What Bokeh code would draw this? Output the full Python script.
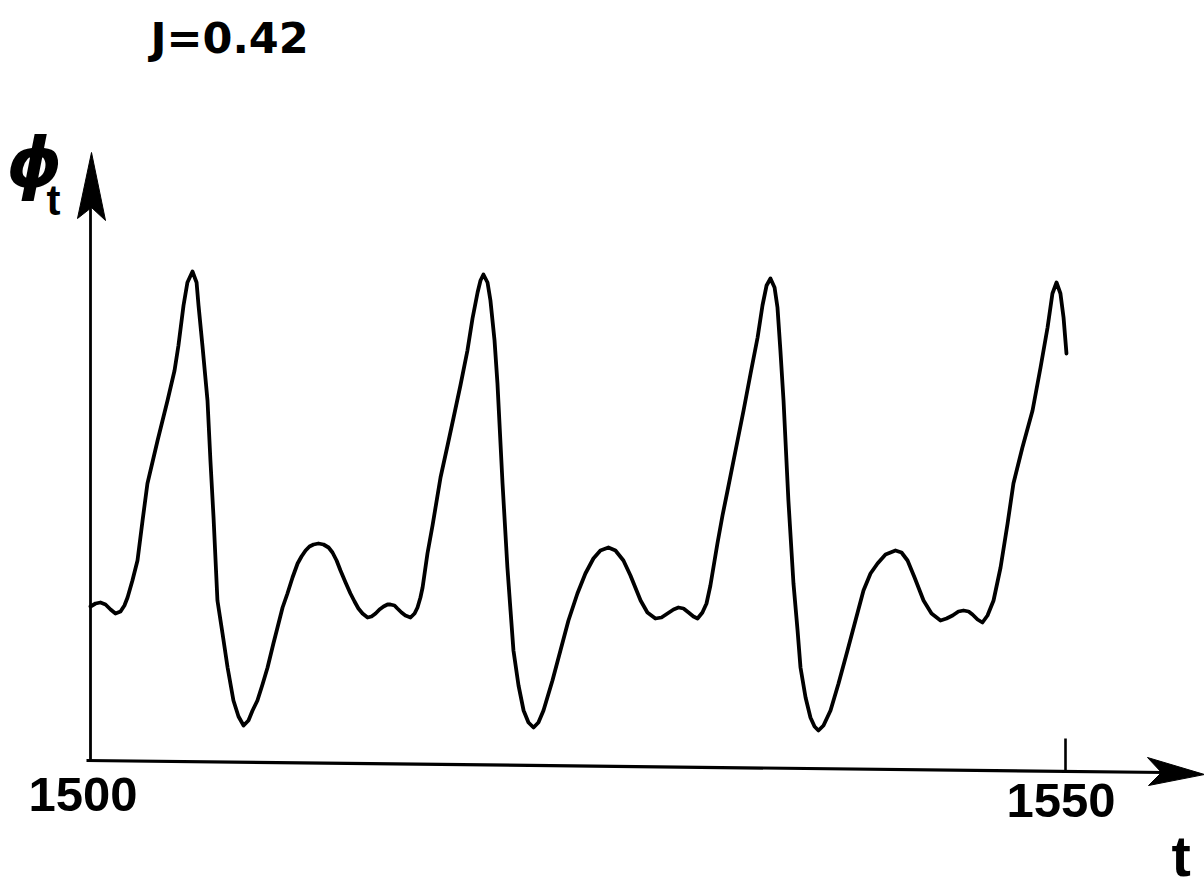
from bokeh.plotting import figure
from bokeh.models import Range1d, Label
from bokeh.embed import file_html
from bokeh.resources import INLINE

# ---------------- data ----------------
t = [1500.00, 1500.26, 1500.51, 1500.77, 1501.03, 1501.28, 1501.54, 1501.74, 1501.90, 1502.15,
     1502.41, 1502.67, 1502.92, 1503.44, 1503.95, 1504.31, 1504.51, 1504.77, 1504.97, 1505.23,
     1505.44, 1505.54, 1505.74, 1506.00, 1506.15, 1506.31, 1506.51, 1506.77, 1507.03, 1507.33,
     1507.59, 1507.85, 1508.10, 1508.31, 1508.56, 1508.82, 1509.08, 1509.38, 1509.59, 1509.85,
     1510.10, 1510.36, 1510.62, 1510.82, 1511.03, 1511.23, 1511.44, 1511.69, 1511.95, 1512.21,
     1512.41, 1512.62, 1512.82, 1513.08, 1513.33, 1513.54, 1513.74, 1513.95, 1514.21, 1514.41,
     1514.62, 1514.82, 1515.03, 1515.23, 1515.38, 1515.59, 1515.74, 1515.95, 1516.15, 1516.41,
     1516.62, 1516.77, 1516.92, 1517.03, 1517.28, 1517.54, 1517.95, 1518.31, 1518.62, 1518.97,
     1519.33, 1519.59, 1519.85, 1520.00, 1520.15, 1520.36, 1520.51, 1520.72, 1520.87, 1521.13,
     1521.38, 1521.54, 1521.69, 1521.95, 1522.21, 1522.46, 1522.72, 1522.97, 1523.23, 1523.69,
     1524.10, 1524.51, 1524.97, 1525.38, 1525.79, 1526.15, 1526.56, 1526.92, 1527.33, 1527.69,
     1528.21, 1528.56, 1528.97, 1529.28, 1529.59, 1529.90, 1530.15, 1530.41, 1530.67, 1530.92,
     1531.13, 1531.38, 1531.59, 1531.79, 1532.15, 1532.41, 1532.67, 1533.08, 1533.49, 1533.85,
     1534.21, 1534.46, 1534.67, 1534.87, 1535.08, 1535.23, 1535.38, 1535.54, 1535.79, 1536.05,
     1536.26, 1536.41, 1536.67, 1536.92, 1537.13, 1537.33, 1537.59, 1537.95, 1538.36, 1538.82,
     1539.23, 1539.64, 1540.00, 1540.36, 1540.77, 1541.28, 1541.59, 1541.90, 1542.26, 1542.72,
     1543.13, 1543.59, 1543.90, 1544.21, 1544.51, 1544.77, 1545.03, 1545.23, 1545.49, 1545.74,
     1546.00, 1546.31, 1546.67, 1547.03, 1547.33, 1547.79, 1548.31, 1548.72, 1549.08, 1549.33,
     1549.54, 1549.74, 1549.90, 1550.05]
phi = [1.54, 1.57, 1.58, 1.56, 1.51, 1.47, 1.49, 1.55, 1.63, 1.80,
       2.00, 2.40, 2.77, 3.20, 3.60, 3.90, 4.15, 4.55, 4.78, 4.89,
       4.78, 4.55, 4.15, 3.60, 3.00, 2.43, 1.60, 1.27, 0.93, 0.60,
       0.44, 0.35, 0.40, 0.50, 0.60, 0.76, 0.93, 1.17, 1.33, 1.53,
       1.67, 1.83, 1.97, 2.04, 2.10, 2.14, 2.16, 2.17, 2.16, 2.13,
       2.08, 2.00, 1.90, 1.78, 1.67, 1.59, 1.52, 1.47, 1.43, 1.44,
       1.47, 1.51, 1.54, 1.56, 1.56, 1.55, 1.52, 1.48, 1.45, 1.43,
       1.47, 1.53, 1.63, 1.73, 2.07, 2.35, 2.83, 3.15, 3.43, 3.75,
       4.10, 4.42, 4.68, 4.80, 4.86, 4.78, 4.60, 4.20, 3.77, 2.77,
       1.93, 1.50, 1.10, 0.75, 0.50, 0.38, 0.33, 0.38, 0.50, 0.80,
       1.10, 1.40, 1.67, 1.87, 2.02, 2.10, 2.13, 2.10, 2.00, 1.85,
       1.60, 1.48, 1.42, 1.43, 1.47, 1.51, 1.53, 1.52, 1.48, 1.44,
       1.42, 1.48, 1.57, 1.75, 2.17, 2.45, 2.70, 3.10, 3.50, 3.87,
       4.23, 4.55, 4.75, 4.82, 4.73, 4.53, 4.10, 3.60, 2.60, 1.77,
       1.30, 0.93, 0.63, 0.43, 0.34, 0.30, 0.35, 0.50, 0.77, 1.10,
       1.40, 1.70, 1.87, 1.97, 2.06, 2.10, 2.08, 2.00, 1.83, 1.60,
       1.47, 1.40, 1.42, 1.45, 1.49, 1.50, 1.49, 1.46, 1.41, 1.38,
       1.45, 1.60, 1.93, 2.37, 2.77, 3.13, 3.50, 3.93, 4.33, 4.67,
       4.78, 4.67, 4.43, 4.07]
x_ticks = [1500, 1550]
x_tick_labels = ["1500", "1550"]
title_text = "J=0.42"
x_label = "t"
y_label = "\u03d5"
y_label_sub = "t"

# ---------------- layout helpers ----------------
W, H = 1204, 888
PX_PER_T = 19.5
T0_PX = 90
PHI0_PY = 760
PX_PER_PHI = 100.0


def tx(px):
    return x_ticks[0] + (px - T0_PX) / PX_PER_T


def ty(py):
    return (PHI0_PY - py) / PX_PER_PHI


p = figure(width=W, height=H, output_backend="svg", toolbar_location=None,
           x_range=Range1d(tx(0), tx(W)), y_range=Range1d(ty(H), ty(0)),
           x_axis_type=None, y_axis_type=None, min_border=0)
p.outline_line_color = None
p.grid.visible = False
p.background_fill_color = "white"
p.border_fill_color = "white"

# curve
p.line(t, phi, line_color="black", line_width=3.8, line_join="round", line_cap="round")

# y axis with arrow
p.line([x_ticks[0], x_ticks[0]], [ty(PHI0_PY), ty(200)], line_color="black", line_width=2.8)
p.patch([tx(91), tx(105), tx(91), tx(77)], [ty(152), ty(220), ty(207), ty(218)],
        fill_color="black", line_color="black", line_width=1)

# x axis with arrow (slightly tilted as in the scan)
p.line([tx(86), tx(1165)], [ty(760), ty(772)], line_color="black", line_width=3.2)
p.patch([tx(1204), tx(1147), tx(1161), tx(1148)], [ty(774), ty(757), ty(772), ty(785)],
        fill_color="black", line_color="black", line_width=1)

# tick at 1550
p.line([x_ticks[1], x_ticks[1]], [ty(738), ty(771)], line_color="black", line_width=2.6)

# texts
p.add_layout(Label(x=tx(150), y=ty(37), text=title_text, text_font="DejaVu Sans",
                   text_font_style="bold", text_font_size="43px", text_color="black",
                   text_align="left", text_baseline="alphabetic"))
p.add_layout(Label(x=tx(28), y=ty(794), text=x_tick_labels[0], text_font="Liberation Sans",
                   text_font_style="bold", text_font_size="49px", text_color="black",
                   text_align="left", text_baseline="alphabetic"))
p.add_layout(Label(x=tx(1006), y=ty(800), text=x_tick_labels[1], text_font="Liberation Sans",
                   text_font_style="bold", text_font_size="49px", text_color="black",
                   text_align="left", text_baseline="alphabetic"))
p.add_layout(Label(x=tx(1171), y=ty(855), text=x_label, text_font="Liberation Sans",
                   text_font_style="bold", text_font_size="58px", text_color="black",
                   text_align="left", text_baseline="alphabetic"))
p.add_layout(Label(x=tx(6), y=ty(162), text=y_label, text_font="DejaVu Sans",
                   text_font_style="bold italic", text_font_size="70px", text_color="black",
                   text_align="left", text_baseline="alphabetic"))
p.add_layout(Label(x=tx(46), y=ty(200), text=y_label_sub, text_font="Liberation Sans",
                   text_font_style="bold", text_font_size="42px", text_color="black",
                   text_align="left", text_baseline="alphabetic"))

open("out.html", "w").write(file_html(p, INLINE))
